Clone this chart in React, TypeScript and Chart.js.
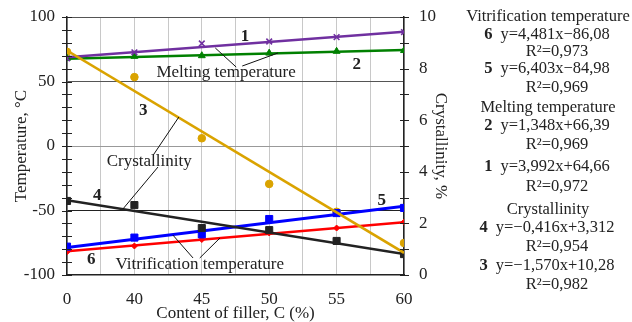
import React, { useEffect, useRef } from 'react';
import { Chart, registerables } from 'chart.js';
Chart.register(...registerables);

const FONT = "'Liberation Serif', 'Times New Roman', serif";
const TXT = '#222';

// categories (content of filler, %)
const categories = ['0', '40', '45', '50', '55', '60'];

// measured points
const melt1 = [68, 72.6, 79.5, 81, 84.4, 88.3]; // °C
const melt2 = [68, 69.5, 70, 72, 73.4, 74]; // °C
const cryst3 = [8.65, 7.67, 5.3, 3.53, 2.45, 1.24]; // %
const cryst4 = [2.87, 2.71, 1.82, 1.74, 1.32, 0.81]; // %
const vitr5 = [-78, -71, -68.5, -56.6, -52, -48]; // °C
const vitr6 = [-82, -77.5, -72.5, -67.4, -63.6, -59]; // °C

// trend line end values (at first and last category)
const trend1 = [68.7, 88.6];
const trend2 = [67.7, 74.5];
const trend3 = [8.7, 0.86];
const trend4 = [2.9, 0.81];
const trend5 = [-78.6, -46.6];
const trend6 = [-81.6, -59.2];

// right side text
const groupTitles = ['Vitrification temperature', 'Melting temperature', 'Crystallinity'];
const eqIds = ['6', '5', '2', '1', '4', '3'];
const eqTexts = ['y=4,481x\u221286,08', 'y=6,403x\u221284,98', 'y=1,348x+66,39', 'y=3,992x+64,66', 'y=\u22120,416x+3,312', 'y=\u22121,570x+10,28'];
const r2Texts = ['R\u00b2=0,973', 'R\u00b2=0,969', 'R\u00b2=0,969', 'R\u00b2=0,972', 'R\u00b2=0,954', 'R\u00b2=0,982'];

const pts = (arr: number[]) => arr.map((v, i) => ({ x: i, y: v }));
const trend = (arr: number[]) => [{ x: 0, y: arr[0] }, { x: categories.length - 1, y: arr[1] }];

const annotPlugin = {
  id: 'annot',
  afterDraw(chart: any) {
    const ctx = chart.ctx;
    const xs = chart.scales.x, ys = chart.scales.y, y2 = chart.scales.y2;
    const px = (i: number) => xs.getPixelForValue(i);
    const py = (v: number) => ys.getPixelForValue(v);
    const seg = (a: number, b: number, c: number, d: number) => {
      ctx.beginPath(); ctx.moveTo(a, b); ctx.lineTo(c, d); ctx.stroke();
    };
    ctx.save();
    // crossing tick marks
    ctx.strokeStyle = TXT; ctx.lineWidth = 1;
    for (let v = -100; v <= 100; v += 10) {
      const y = Math.round(py(v)) + 0.5;
      seg(xs.left - 5, y, xs.left + 5, y);
    }
    for (let v = 0; v <= 10; v += 1) {
      const y = Math.round(y2.getPixelForValue(v)) + 0.5;
      seg(xs.right - 4, y, xs.right + 5, y);
    }
    // pointer lines
    ctx.lineWidth = 1; ctx.strokeStyle = '#111';
    const L = (a: number[], b: number[]) => seg(px(a[0]), py(a[1]), px(b[0]), py(b[1]));
    L([2.2, 76.0], [2.51, 61.2]);
    L([2.6, 62.0], [3.13, 72.1]);
    L([1.28, -7.0], [1.66, 22.5]);
    L([1.35, -16.3], [0.83, -48.8]);
    L([1.57, -69], [1.87, -86.8]);
    L([1.97, -86.8], [2.27, -71.3]);
    // labels
    ctx.fillStyle = TXT; ctx.textAlign = 'center'; ctx.textBaseline = 'middle';
    ctx.font = `17px ${FONT}`;
    const T = (s: string, i: number, v: number) => ctx.fillText(s, px(i), py(v));
    T('Melting temperature', 2.36, 56.6);
    T('Crystallinity', 1.22, -12.4);
    T('Vitrification temperature', 1.97, -92.2);
    ctx.font = `bold 17px ${FONT}`;
    T('1', 2.64, 84.5);
    T('2', 4.3, 62.8);
    T('3', 1.13, 27.1);
    T('4', 0.45, -38.8);
    T('5', 4.67, -42.6);
    T('6', 0.36, -88.4);

    // right text block
    const cx = 547;
    const fs = 16.5;
    const titleY = [17, 108, 210];
    const eqY = [35, 69, 126, 167, 228, 266];
    const rY = [52, 88, 145, 187, 247, 285];
    ctx.font = `${fs}px ${FONT}`;
    groupTitles.forEach((t, i) => ctx.fillText(t, cx + 1, titleY[i]));
    eqTexts.forEach((t, i) => {
      ctx.font = `bold ${fs}px ${FONT}`;
      const w1 = ctx.measureText(eqIds[i]).width;
      ctx.font = `${fs}px ${FONT}`;
      const w2 = ctx.measureText(t).width;
      const gap = 8;
      const start = cx - (w1 + gap + w2) / 2;
      ctx.textAlign = 'left';
      ctx.font = `bold ${fs}px ${FONT}`;
      ctx.fillText(eqIds[i], start, eqY[i]);
      ctx.font = `${fs}px ${FONT}`;
      ctx.fillText(t, start + w1 + gap, eqY[i]);
      ctx.textAlign = 'center';
      ctx.fillText(r2Texts[i], cx + 10, rY[i]);
    });
    ctx.restore();
  },
};

export default function App() {
  const ref = useRef<HTMLCanvasElement>(null);
  useEffect(() => {
    if (!ref.current) return;
    const font = { family: FONT, size: 17 };
    const ptDs = (data: number[], color: string, style: string, r: number, axis: string, order = 0) => ({
      data: pts(data), yAxisID: axis, showLine: false, pointStyle: style, pointRadius: r,
      pointBackgroundColor: color, pointBorderColor: color, pointBorderWidth: style === 'crossRot' ? 1.6 : 1, order,
    });
    const trDs = (data: number[], color: string, w: number, axis: string, order = 3) => ({
      data: trend(data), yAxisID: axis, showLine: true, borderColor: color, borderWidth: w, pointRadius: 0, order,
    });
    const fitV = (w: number) => (s: any) => { s.width = w; s.paddingTop = 0; s.paddingBottom = 0; };
    const chart = new Chart(ref.current, {
      type: 'scatter',
      data: {
        datasets: [
          trDs(trend1, '#7030A0', 2.5, 'y'),
          trDs(trend2, '#008000', 2.5, 'y'),
          trDs(trend3, '#DAA300', 2.5, 'y2', -1),
          trDs(trend4, '#222222', 2.5, 'y2'),
          trDs(trend5, '#0000FF', 3, 'y'),
          trDs(trend6, '#FF0000', 2.5, 'y'),
          ptDs(melt1, '#7030A0', 'crossRot', 4, 'y'),
          ptDs(melt2, '#008000', 'triangle', 4, 'y'),
          ptDs(cryst3, '#DAA300', 'circle', 3.8, 'y2', 1),
          ptDs(cryst4, '#222222', 'rect', 5, 'y2'),
          ptDs(vitr5, '#0000FF', 'rect', 5, 'y'),
          ptDs(vitr6, '#FF0000', 'rectRot', 3, 'y'),
        ] as any,
      },
      options: {
        responsive: false,
        animation: false,
        layout: { padding: { top: 17, right: 172, left: 0, bottom: 0 } },
        plugins: { legend: { display: false }, tooltip: { enabled: false } },
        scales: {
          x: {
            type: 'linear', min: 0, max: categories.length - 1,
            afterFit: (s: any) => { s.height = 47; },
            ticks: {
              stepSize: 0.5, autoSkip: false, maxRotation: 0, padding: 14, color: TXT, font,
              callback: (v: any) => (Number.isInteger(v) ? categories[v] : ''),
            },
            grid: { color: '#c8c8c8', drawTicks: false, lineWidth: 1 },
            border: { color: TXT, width: 1.5 },
            title: { display: true, text: 'Content of filler, C (%)', color: TXT, font: { family: FONT, size: 17, lineHeight: 1 }, padding: 0 },
          },
          y: {
            position: 'left', min: -100, max: 100,
            afterFit: fitV(67),
            ticks: {
              stepSize: 10, autoSkip: false, padding: 12, color: TXT, font,
              callback: (v: any) => (v % 50 === 0 ? String(v) : ''),
            },
            grid: {
              drawTicks: false,
              color: (c: any) => {
                const v = c.tick?.value;
                if (v === 100 || v === 50) return '#555';
                if (v === 0) return '#999';
                if (v === -50) return '#222';
                return 'rgba(0,0,0,0)';
              },
            },
            border: { color: TXT, width: 1.5 },
            title: { display: true, text: 'Temperature, \u00b0C', color: TXT, font: { family: FONT, size: 17, lineHeight: 1.2 }, padding: { top: 11, bottom: 0 } },
          },
          y2: {
            position: 'right', min: 0, max: 10,
            afterFit: fitV(56),
            ticks: {
              stepSize: 1, autoSkip: false, padding: 15, color: TXT, font,
              callback: (v: any) => (v % 2 === 0 ? String(v) : ''),
            },
            grid: { drawOnChartArea: false, drawTicks: false },
            border: { color: TXT, width: 1.5 },
            title: { display: true, text: 'Crystallinity, %', color: TXT, font: { family: FONT, size: 17, lineHeight: 1.2 }, padding: { top: 9, bottom: 0 } },
          },
        },
      } as any,
      plugins: [annotPlugin],
    });
    return () => chart.destroy();
  }, []);
  return (
    <div style={{ position: 'absolute', left: 0, top: 0, width: 632, height: 322, background: '#fff' }}>
      <canvas ref={ref} width={632} height={322} style={{ display: 'block', width: 632, height: 322 }} />
    </div>
  );
}
